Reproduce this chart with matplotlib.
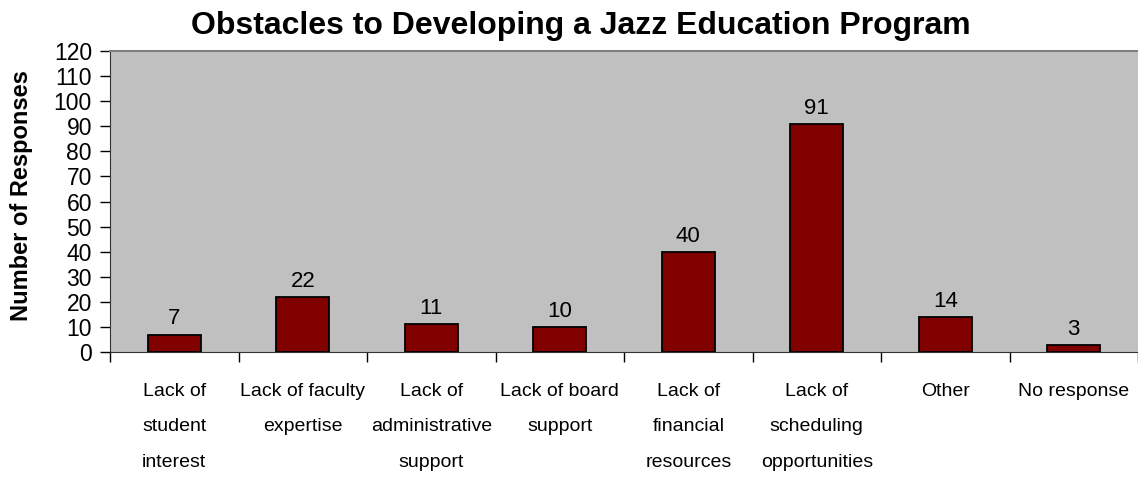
import matplotlib.pyplot as plt
import numpy as np

categories = ['Lack of\nstudent\ninterest', 'Lack of faculty\nexpertise',
              'Lack of\nadministrative\nsupport', 'Lack of board\nsupport',
              'Lack of\nfinancial\nresources', 'Lack of\nscheduling\nopportunities',
              'Other', 'No response']
responses = [7, 22, 11, 10, 40, 91, 14, 3]
y_ticks = list(range(0, 121, 10))

plt.rcParams['font.family'] = ['Liberation Sans', 'DejaVu Sans']

fig = plt.figure(figsize=(11.38, 4.79), dpi=100)
ax = fig.add_axes([0.0967, 0.265, 0.9033, 0.6285])
ax.set_facecolor('#C0C0C0')

x = np.arange(len(categories))
ax.bar(x, responses, width=0.41, color='#800000', edgecolor='black', linewidth=1.3, zorder=3)

for xi, v in zip(x, responses):
    ax.text(xi, v + 4, str(v), ha='center', va='baseline', fontsize=16)

ax.set_xlim(-0.5, len(categories) - 0.5)
ax.set_ylim(0, 120)
ax.set_yticks(y_ticks)
ax.tick_params(axis='y', labelsize=16.5, length=7, width=1, pad=6)

# 눈금은 카테고리 경계에, 라벨은 가운데
ax.set_xticks(np.arange(-0.5, len(categories), 1.0))
ax.set_xticklabels([])
ax.tick_params(axis='x', length=7, width=1)
ax.set_xticks(x, minor=True)
ax.set_xticklabels(categories, minor=True, fontsize=14, linespacing=2.45)
ax.tick_params(axis='x', which='minor', length=0, pad=22)

ax.spines['top'].set_color('#808080')
ax.spines['top'].set_linewidth(1.5)
ax.spines['right'].set_visible(False)
ax.spines['left'].set_color('#333333')
ax.spines['bottom'].set_color('#333333')

ax.set_ylabel('Number of Responses', fontsize=17, fontweight='bold')
ax.yaxis.set_label_coords(-0.075, 0.52)
fig.text(0.51, 0.945, 'Obstacles to Developing a Jazz Education Program',
         ha='center', va='center', fontsize=23, fontweight='bold')

plt.savefig('out.png', dpi=100)
plt.close()
